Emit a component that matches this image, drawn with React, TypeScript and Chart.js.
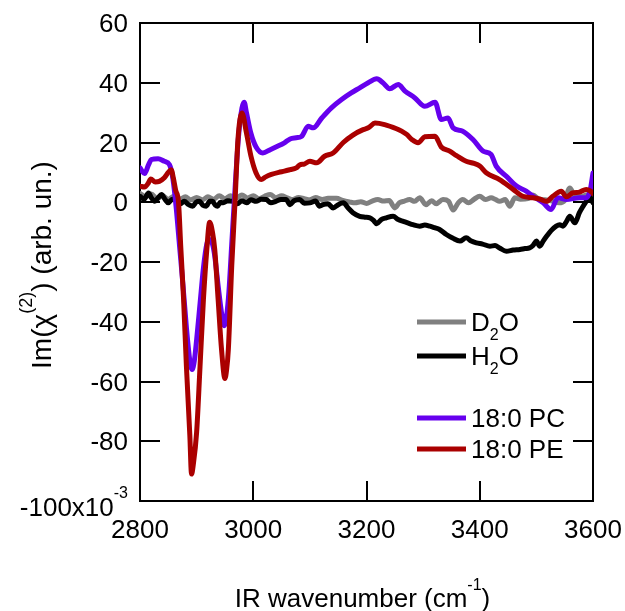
import React, { useEffect, useRef } from 'react';
import { Chart, registerables } from 'chart.js';

Chart.register(...registerables);

const FONT = '"Liberation Sans", Arial, Helvetica, sans-serif';

// axis ranges and ticks
const X_MIN = 2800;
const X_MAX = 3600;
const X_STEP = 200;
const Y_MIN = -100;
const Y_MAX = 60;
const Y_STEP = 20;
const X_TICK_LABELS = [2800, 3000, 3200, 3400, 3600];
const Y_TICK_LABELS = [60, 40, 20, 0, -20, -40, -60, -80];
const X_INNER_TICKS = [3000, 3200, 3400];
const Y_INNER_TICKS = [40, 20, 0, -20, -40, -60, -80];

// series: [IR wavenumber (cm-1), Im(chi2) (x10^-3)]
const D2O: [number, number][] = [
  [2800, 3], [2810, 1.8], [2820, 2.8], [2830, 1.2], [2840, 2.2], [2850, 1], [2860, 2], [2870, 1],
  [2880, 1.8], [2890, 0.8], [2900, 1.6], [2910, 0.8], [2920, 1.8], [2930, 1], [2940, 2.2], [2950, 1.2],
  [2960, 2.2], [2970, 1.4], [2980, 2.4], [2990, 1.4], [3000, 2.2], [3010, 1.2], [3020, 2], [3030, 2.6],
  [3040, 1.5], [3050, 2.2], [3060, 1.5], [3070, 0.9], [3080, 1.6], [3090, 1.2], [3100, 0.8], [3110, 1.6],
  [3122, 0.9], [3132, 1.3], [3147, 1.3], [3158, 0.6], [3170, 0.1], [3180, -0.2], [3190, 0.2], [3200, -0.4],
  [3210, 0.4], [3220, 0.9], [3230, 0.4], [3240, 0.6], [3250, -1.9], [3258, -0.2], [3267, 0.4], [3276, 0.9],
  [3285, 0.3], [3294, 1.5], [3305, -0.8], [3315, 0.5], [3323, -0.5], [3335, 0.9], [3345, 0.3], [3353, -2.6],
  [3362, -0.2], [3370, 0.9], [3380, -0.2], [3390, 1], [3400, 2], [3410, 0.9], [3420, 1.5], [3428, 0.9],
  [3435, 0.3], [3445, 0.9], [3453, -1.3], [3462, 1.5], [3472, 1], [3485, 1.2], [3494, 2.4], [3505, 1],
  [3515, 0.8], [3526, 0.5], [3540, -0.2], [3550, 0.6], [3559, 4.8], [3568, 2.2], [3580, 2], [3590, 2.5],
  [3600, 1],
];

const H2O: [number, number][] = [
  [2800, 2], [2807, 1], [2815, 3.1], [2820, 1.5], [2826, 0.3], [2832, 1.5], [2838, 2.6], [2844, 1],
  [2850, -0.2], [2857, 1], [2864, 0.9], [2871, -0.5], [2878, 0.3], [2886, -0.8], [2893, -1.3], [2899, 0],
  [2905, 0.3], [2911, -1], [2917, -1.3], [2923, 0.3], [2928, 0.3], [2933, -1], [2937, -1.3], [2942, 0],
  [2947, -0.2], [2955, 0.5], [2964, 0.3], [2972, -0.5], [2980, 0.5], [2988, -0.2], [2996, 0.8], [3005, 0.3],
  [3014, 1], [3023, 0.9], [3031, -0.2], [3040, 0.3], [3049, 0.9], [3058, 0.9], [3065, -0.8], [3072, 0.5],
  [3082, 0.9], [3090, -0.3], [3100, -0.2], [3110, 0.4], [3117, -1.3], [3123, -0.8], [3132, -0.5], [3141, -1.9],
  [3150, -0.8], [3159, -0.2], [3168, -2], [3176, -3.5], [3188, -4.7], [3197, -5], [3206, -5.2], [3212, -6],
  [3218, -7.2], [3226, -5.8], [3235, -5.2], [3247, -4.7], [3256, -5.8], [3265, -6.4], [3274, -7], [3282, -7.5],
  [3294, -8], [3303, -7.6], [3312, -8], [3320, -8.5], [3329, -9.1], [3341, -10.8], [3352, -12], [3365, -13],
  [3376, -11.9], [3385, -13], [3394, -13.6], [3405, -14], [3418, -14.7], [3427, -14.5], [3435, -15.3], [3447, -16.4],
  [3459, -16], [3471, -15.8], [3480, -15.5], [3488, -15.3], [3494, -14.5], [3500, -13], [3506, -14.7], [3512, -13],
  [3518, -11.4], [3526, -9.5], [3535, -8], [3541, -7.5], [3547, -8], [3553, -6.5], [3559, -4.7], [3568, -6.9],
  [3576, -3.5], [3582, -1.5], [3588, 0.3], [3594, 2], [3600, -0.2],
];

const PC_18_0: [number, number][] = [
  [2800, 11.5], [2808, 9.6], [2815, 12.5], [2820, 14.3], [2832, 14.6], [2843, 13.7], [2852, 12.6], [2858, 8],
  [2864, -2], [2870, -15], [2876, -28], [2882, -42], [2888, -53], [2892, -56], [2896, -53], [2900, -46],
  [2906, -34], [2912, -22], [2918, -14], [2923, -12.5], [2928, -14], [2932, -18], [2938, -28], [2944, -37],
  [2949, -41.3], [2953, -38], [2957, -30], [2962, -14], [2968, 5], [2974, 22], [2980, 31.5], [2984, 33.5],
  [2988, 30], [2996, 23], [3005, 18.5], [3017, 16.5], [3030, 17.6], [3040, 18.5], [3055, 19.9], [3065, 21.2],
  [3076, 21.6], [3085, 22], [3097, 25.4], [3106, 24.9], [3121, 28.2], [3138, 31.6], [3156, 34.4], [3173, 36.6],
  [3188, 38.3], [3203, 40], [3218, 41.3], [3229, 40], [3241, 38], [3256, 39.4], [3268, 37.2], [3285, 35],
  [3303, 32.1], [3321, 33.5], [3332, 27.7], [3344, 28.2], [3353, 24.9], [3370, 23.8], [3388, 21], [3406, 17.1],
  [3420, 16], [3429, 12.1], [3447, 8.7], [3465, 5.4], [3482, 3.7], [3494, 2], [3512, -0.2], [3526, -2.4],
  [3538, 1.5], [3553, 0.9], [3576, 1.5], [3588, 1.5], [3595, 4], [3600, 9.8],
];

const PE_18_0: [number, number][] = [
  [2800, 5.4], [2808, 5.1], [2815, 6.5], [2819, 7.8], [2827, 6.8], [2834, 7], [2843, 8.2], [2850, 10],
  [2855, 10.9], [2859, 8], [2863, 4], [2868, 0], [2872, -15], [2877, -32.6], [2882, -55], [2888, -78],
  [2891, -91], [2894, -88], [2900, -77], [2906, -55], [2912, -32.6], [2918, -15.8], [2923, -6.7], [2928, -10],
  [2932, -15.8], [2938, -32.6], [2944, -49.3], [2950, -59], [2953, -56], [2956, -49.3], [2962, -21.4], [2968, 0.9],
  [2973, 21], [2980, 29.9], [2988, 23.2], [2996, 15.4], [3005, 9.8], [3014, 7.6], [3022, 8.5], [3032, 9.3],
  [3045, 10], [3055, 10.4], [3065, 10.9], [3076, 11.5], [3082, 12.5], [3090, 12.8], [3100, 13.7], [3112, 13.2],
  [3126, 15.4], [3141, 16.5], [3159, 20], [3176, 22.5], [3194, 24.3], [3204, 25], [3215, 26.5], [3232, 26],
  [3253, 24.6], [3262, 23.8], [3271, 22.7], [3280, 21], [3291, 19.9], [3303, 21.9], [3321, 22.1], [3332, 18.5],
  [3347, 17.1], [3359, 15.6], [3376, 13.7], [3390, 13], [3400, 12.1], [3412, 9.8], [3435, 7.6], [3459, 4.3],
  [3476, 2], [3494, 1.5], [3507, 1], [3518, 0.3], [3529, 2], [3544, 3.7], [3553, 1.8], [3564, 3.1],
  [3576, 3.4], [3588, 4.3], [3595, 3.8], [3600, 2.9],
];

const COLORS = {
  d2o: '#808080',
  h2o: '#000000',
  pc: '#6600EE',
  pe: '#AA0000',
};

const FS = 26; // main font size
const FS_SUP = 16;

type Part = { t: string; s: number; dy: number };

function partsWidth(ctx: CanvasRenderingContext2D, parts: Part[]) {
  let w = 0;
  for (const p of parts) {
    ctx.font = `${p.s}px ${FONT}`;
    w += ctx.measureText(p.t).width;
  }
  return w;
}

function drawParts(ctx: CanvasRenderingContext2D, parts: Part[], x: number, y: number) {
  let cx = x;
  ctx.textAlign = 'left';
  ctx.textBaseline = 'alphabetic';
  for (const p of parts) {
    ctx.font = `${p.s}px ${FONT}`;
    ctx.fillText(p.t, cx, y + p.dy);
    cx += ctx.measureText(p.t).width;
  }
}

const LEGEND: { parts: Part[]; color: string; y: number }[] = [
  { parts: [{ t: 'D', s: FS, dy: 0 }, { t: '2', s: FS_SUP, dy: 9 }, { t: 'O', s: FS, dy: 0 }], color: COLORS.d2o, y: 322 },
  { parts: [{ t: 'H', s: FS, dy: 0 }, { t: '2', s: FS_SUP, dy: 9 }, { t: 'O', s: FS, dy: 0 }], color: COLORS.h2o, y: 356 },
  { parts: [{ t: '18:0 PC', s: FS, dy: 0 }], color: COLORS.pc, y: 418 },
  { parts: [{ t: '18:0 PE', s: FS, dy: 0 }], color: COLORS.pe, y: 449 },
];

const decor = {
  id: 'decor',
  beforeDatasetsDraw(chart: any) {
    const { ctx, chartArea: a, scales } = chart;
    ctx.save();
    ctx.strokeStyle = '#000';
    ctx.lineWidth = 2;
    ctx.beginPath();
    for (const v of X_INNER_TICKS) {
      const px = Math.round(scales.x.getPixelForValue(v));
      ctx.moveTo(px, a.bottom);
      ctx.lineTo(px, a.bottom - 20);
      ctx.moveTo(px, a.top);
      ctx.lineTo(px, a.top + 20);
    }
    for (const v of Y_INNER_TICKS) {
      const py = Math.round(scales.y.getPixelForValue(v));
      ctx.moveTo(a.left, py);
      ctx.lineTo(a.left + 20, py);
      ctx.moveTo(a.right, py);
      ctx.lineTo(a.right - 20, py);
    }
    ctx.stroke();
    ctx.strokeRect(a.left, a.top, a.right - a.left, a.bottom - a.top);
    ctx.restore();
  },
  afterDraw(chart: any) {
    const { ctx, chartArea: a, scales } = chart;
    ctx.save();
    ctx.fillStyle = '#000';

    // x tick labels
    ctx.font = `${FS}px ${FONT}`;
    ctx.textAlign = 'center';
    ctx.textBaseline = 'alphabetic';
    for (const v of X_TICK_LABELS) {
      ctx.fillText(String(v), scales.x.getPixelForValue(v), a.bottom + 37);
    }

    // y tick labels
    ctx.textAlign = 'right';
    for (const v of Y_TICK_LABELS) {
      ctx.fillText(String(v), a.left - 12, scales.y.getPixelForValue(v) + 9);
    }

    // bottom y tick label with exponent
    const yb = scales.y.getPixelForValue(Y_MIN);
    const lab: Part[] = [{ t: '-100x10', s: FS, dy: 0 }, { t: '-3', s: FS_SUP, dy: -18 }];
    const lw = partsWidth(ctx, lab);
    drawParts(ctx, lab, a.left - 12 - lw, yb + 15);

    // x title
    const xt: Part[] = [
      { t: 'IR wavenumber (cm', s: FS, dy: 0 },
      { t: '-1', s: FS_SUP, dy: -17 },
      { t: ')', s: FS, dy: 0 },
    ];
    const xw = partsWidth(ctx, xt);
    drawParts(ctx, xt, (a.left + a.right) / 2 - 4 - xw / 2, 607);

    // y title (rotated)
    const yt: Part[] = [
      { t: 'Im(\u03C7', s: 28, dy: 0 },
      { t: '(2)', s: 18, dy: -19 },
      { t: ') (arb. un.)', s: 28, dy: 0 },
    ];
    const yw = partsWidth(ctx, yt);
    ctx.save();
    ctx.translate(51, 265);
    ctx.rotate(-Math.PI / 2);
    drawParts(ctx, yt, -yw / 2, 0);
    ctx.restore();

    // legend
    for (const it of LEGEND) {
      ctx.strokeStyle = it.color;
      ctx.lineWidth = 5;
      ctx.beginPath();
      ctx.moveTo(417, it.y);
      ctx.lineTo(466, it.y);
      ctx.stroke();
      ctx.fillStyle = '#000';
      drawParts(ctx, it.parts, 471, it.y + 9);
    }
    ctx.restore();
  },
};

const toPts = (arr: [number, number][]) => arr.map(([x, y]) => ({ x, y }));

export default function App() {
  const ref = useRef<HTMLCanvasElement>(null);
  useEffect(() => {
    document.body.style.margin = '0';
    const canvas = ref.current!;
    const mk = (label: string, data: [number, number][], color: string) => ({
      label,
      data: toPts(data),
      borderColor: color,
      backgroundColor: color,
      borderWidth: 5,
      pointRadius: 0,
      fill: false,
      cubicInterpolationMode: 'monotone' as const,
      borderCapStyle: 'round' as const,
      borderJoinStyle: 'round' as const,
    });
    const chart = new Chart(canvas, {
      type: 'line',
      data: {
        datasets: [
          mk('18:0 PE', PE_18_0, COLORS.pe),
          mk('18:0 PC', PC_18_0, COLORS.pc),
          mk('H2O', H2O, COLORS.h2o),
          mk('D2O', D2O, COLORS.d2o),
        ],
      },
      options: {
        responsive: false,
        maintainAspectRatio: false,
        devicePixelRatio: 1,
        animation: false,
        layout: { padding: { top: 23, right: 32, left: 0, bottom: 0 } },
        plugins: {
          legend: { display: false },
          tooltip: { enabled: false },
        },
        scales: {
          x: {
            type: 'linear',
            min: X_MIN,
            max: X_MAX,
            grid: { display: false, drawTicks: false },
            border: { display: false },
            ticks: { stepSize: X_STEP, display: false },
            afterFit: (s: any) => {
              s.height = 110;
            },
          },
          y: {
            type: 'linear',
            min: Y_MIN,
            max: Y_MAX,
            grid: { display: false, drawTicks: false },
            border: { display: false },
            ticks: { stepSize: Y_STEP, display: false },
            afterFit: (s: any) => {
              s.width = 140;
            },
          },
        },
      },
      plugins: [decor],
    });
    return () => chart.destroy();
  }, []);
  return (
    <div style={{ width: 625, height: 611, background: '#fff' }}>
      <canvas ref={ref} width={625} height={611} style={{ display: 'block' }} />
    </div>
  );
}
